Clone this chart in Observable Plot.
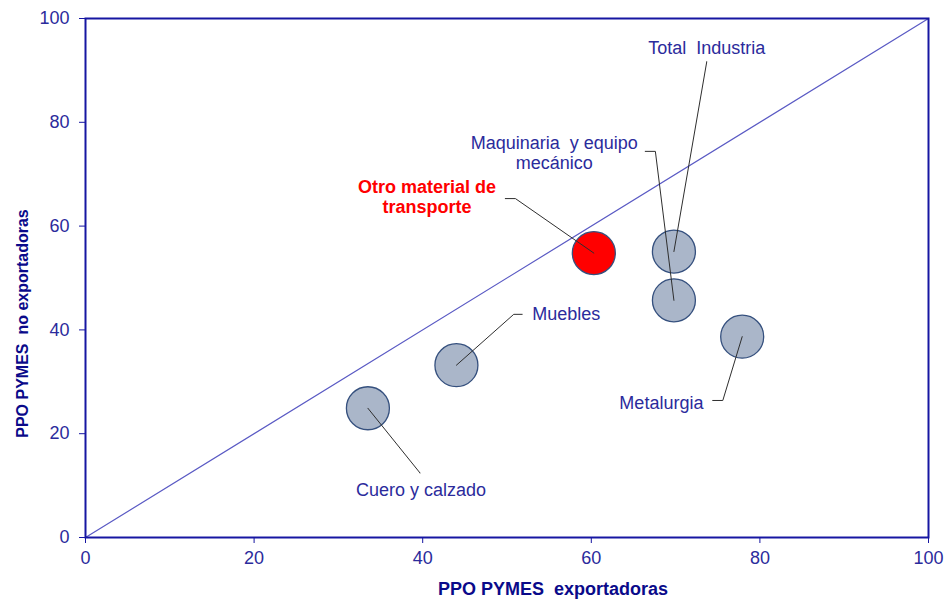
<!DOCTYPE html>
<html>
<head>
<meta charset="utf-8">
<script src="https://cdn.jsdelivr.net/npm/d3@7"></script>
<script src="https://cdn.jsdelivr.net/npm/@observablehq/plot@0.6"></script>
<style>
  html, body { margin: 0; padding: 0; background: #fff; }
  svg text { white-space: pre; }
</style>
</head>
<body>
<div id="chart"></div>
<script>
// ---- data ----
const sectors = ["Cuero y calzado", "Muebles", "Otro material de\ntransporte", "Total  Industria", "Maquinaria  y equipo\nmecánico", "Metalurgia"];
const exportadoras = [33.5, 44.0, 60.3, 69.8, 69.8, 77.9];     // x
const noExportadoras = [24.9, 33.2, 54.8, 55.1, 45.7, 38.7];   // y
const highlighted = [false, false, true, false, false, false];
// annotation anchors (data units), as placed in the original chart
const labelX = [39.8, 53.0, 40.5, 73.7, 55.6, 73.3];
const labelY = [9.3, 43.0, 65.7, 94.5, 74.2, 25.9];
const labelSide = ["middle", "start", "middle", "middle", "middle", "end"];
const elbowX = [39.7, 50.8, 51.0, 73.7, 67.6, 75.6];
const elbowY = [12.4, 43.0, 65.3, 91.7, 74.4, 26.4];
const tailX = [39.7, 51.8, 49.8, 73.7, 66.4, 74.4];
const tailY = [12.4, 43.0, 65.3, 91.7, 74.4, 26.4];
const xTicks = [0, 20, 40, 60, 80, 100];
const yTicks = [0, 20, 40, 60, 80, 100];
const xTitle = "PPO PYMES  exportadoras";
const yTitle = "PPO PYMES  no exportadoras";
const diagonal = [0, 100];

// ---- derived tables ----
const points = sectors.map((s, i) => ({
  sector: s, x: exportadoras[i], y: noExportadoras[i], hi: highlighted[i],
  lx: labelX[i], ly: labelY[i], side: labelSide[i]
}));
const leaders = sectors.flatMap((s, i) => [
  {sector: s, x: exportadoras[i], y: noExportadoras[i]},
  {sector: s, x: elbowX[i], y: elbowY[i]},
  {sector: s, x: tailX[i], y: tailY[i]}
]);
const diag = diagonal.map(v => ({x: v, y: v}));

const NAVY = "#2b2b9c";
const FRAME = "#1616a2";
const FONT = "Liberation Sans, Arial, sans-serif";
const FS = 18;

const chart = Plot.plot({
  width: 947,
  height: 604,
  marginLeft: 85,
  marginRight: 19,
  marginTop: 18,
  marginBottom: 67,
  style: {fontFamily: FONT, background: "#fff", overflow: "visible"},
  x: {domain: [0, 100]},
  y: {domain: [0, 100]},
  marks: [
    Plot.line(diag, {x: "x", y: "y", stroke: "#5a5ac4", strokeWidth: 1.2}),
    Plot.dot(points.filter(d => !d.hi), {x: "x", y: "y", r: 21.5, fill: "#aab6c9", stroke: "#35507e", strokeWidth: 1.3}),
    Plot.dot(points.filter(d => d.hi), {x: "x", y: "y", r: 21.5, fill: "#ff0000", stroke: "#35507e", strokeWidth: 1.3}),
    Plot.line(leaders, {x: "x", y: "y", z: "sector", stroke: "#2e2e2e", strokeWidth: 1}),
    Plot.text(points.filter(d => !d.hi && d.side === "middle"), {x: "lx", y: "ly", text: "sector", textAnchor: "middle", lineAnchor: "middle", lineHeight: 1.15, fontSize: FS, fill: NAVY}),
    Plot.text(points.filter(d => !d.hi && d.side === "start"), {x: "lx", y: "ly", text: "sector", textAnchor: "start", lineAnchor: "middle", fontSize: FS, fill: NAVY}),
    Plot.text(points.filter(d => !d.hi && d.side === "end"), {x: "lx", y: "ly", text: "sector", textAnchor: "end", lineAnchor: "middle", fontSize: FS, fill: NAVY}),
    Plot.text(points.filter(d => d.hi), {x: "lx", y: "ly", text: "sector", textAnchor: "middle", lineAnchor: "middle", lineHeight: 1.15, fontSize: FS, fontWeight: "bold", fill: "#ff0000"}),
    Plot.frame({stroke: FRAME, strokeWidth: 2}),
    Plot.axisX({ticks: xTicks, tickSize: 6, tickPadding: 8, label: null, fontSize: FS, stroke: FRAME, fill: NAVY}),
    Plot.axisY({ticks: yTicks, tickSize: 6, tickPadding: 10, label: null, fontSize: FS, stroke: FRAME, fill: NAVY}),
    Plot.text([xTitle], {frameAnchor: "bottom", text: d => d, textAnchor: "middle", dx: 46, dy: 52, fontSize: FS, fontWeight: "bold", fill: "#0a0a8a", lineAnchor: "middle"}),
    Plot.text([yTitle], {frameAnchor: "left", text: d => d, textAnchor: "middle", dx: -63, dy: 45.5, rotate: -90, fontSize: 16, fontWeight: "bold", fill: "#0a0a8a", lineAnchor: "middle"})
  ]
});
document.getElementById("chart").appendChild(chart);
</script>
</body>
</html>
